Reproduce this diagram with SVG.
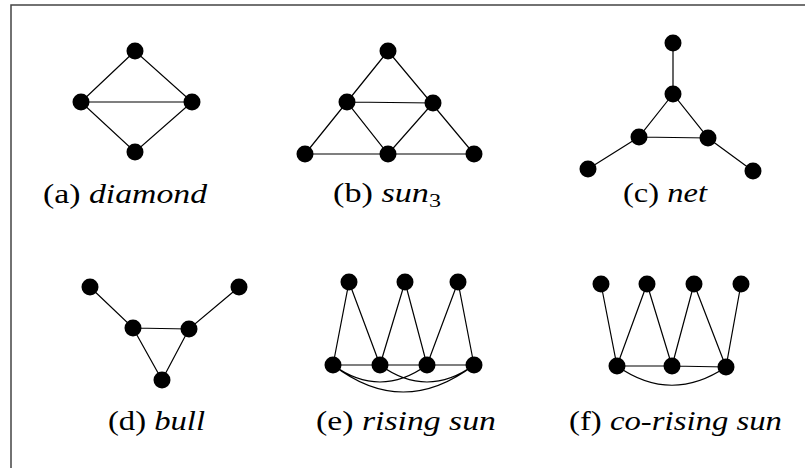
<svg xmlns="http://www.w3.org/2000/svg" width="805" height="468" viewBox="0 0 805 468">
<style>
.frame{stroke:#444;stroke-width:1.5;fill:none}
.e{stroke:#000;stroke-width:1.2;fill:none}
.n{fill:#000}
.lbl{font-family:"Liberation Serif","Times New Roman",serif;font-size:27px;fill:#000}
.it{font-style:italic}
</style>
<rect width="805" height="468" fill="#fff"/>
<path class="frame" d="M11,468 V5 H805"/>
<g id="connectors">
<path class="e" d="M135,51 L81,102 L135,152 L192,102 Z M81,102 H192"/>
<path class="e" d="M388,51 L305,154 H474 Z M347,102 L433,103 L388,154 Z"/>
<path class="e" d="M673,43 V94 M673,94 L639,137 L708,138 Z M639,137 L588,169 M708,138 L753,171"/>
<path class="e" d="M90,287 L133,328 L189,329 L239,287 M133,328 L162,380 L189,329"/>
<path class="e" d="M333,365 L349,282 L380,365 L405,282 L427,365 L458,282 L474,365 M333,365 H474"/>
<path class="e" d="M333,365 Q380,399 427,365 M380,365 Q427,399 474,365 M333,365 Q403,419 474,365"/>
<path class="e" d="M601,284 L617,366 L647,284 L672,366 L694,284 L726,367 L741,284 M617,366 L672,366 L726,367"/>
<path class="e" d="M617,366 Q671,404 726,367"/>
</g>
<g id="diamond">
<circle class="n" cx="135" cy="51" r="8.5"/><circle class="n" cx="81" cy="102" r="8.5"/><circle class="n" cx="192" cy="102" r="8.5"/><circle class="n" cx="135" cy="152" r="8.5"/>
<text class="lbl" x="43" y="203" textLength="164" lengthAdjust="spacingAndGlyphs">(a) <tspan class="it">diamond</tspan></text>
</g>
<g id="sun3">
<circle class="n" cx="388" cy="51" r="8.5"/><circle class="n" cx="347" cy="102" r="8.5"/><circle class="n" cx="433" cy="103" r="8.5"/><circle class="n" cx="305" cy="154" r="8.5"/><circle class="n" cx="388" cy="154" r="8.5"/><circle class="n" cx="474" cy="154" r="8.5"/>
<text class="lbl" x="333" y="202" textLength="108" lengthAdjust="spacingAndGlyphs">(b) <tspan class="it">sun</tspan><tspan font-size="19" dy="5">3</tspan></text>
</g>
<g id="net">
<circle class="n" cx="673" cy="43" r="8.5"/><circle class="n" cx="673" cy="94" r="8.5"/><circle class="n" cx="639" cy="137" r="8.5"/><circle class="n" cx="708" cy="138" r="8.5"/><circle class="n" cx="588" cy="169" r="8.5"/><circle class="n" cx="753" cy="171" r="8.5"/>
<text class="lbl" x="623" y="202" textLength="84" lengthAdjust="spacingAndGlyphs">(c) <tspan class="it">net</tspan></text>
</g>
<g id="bull">
<circle class="n" cx="90" cy="287" r="8.5"/><circle class="n" cx="239" cy="287" r="8.5"/><circle class="n" cx="133" cy="328" r="8.5"/><circle class="n" cx="189" cy="329" r="8.5"/><circle class="n" cx="162" cy="380" r="8.5"/>
<text class="lbl" x="108" y="430" textLength="97" lengthAdjust="spacingAndGlyphs">(d) <tspan class="it">bull</tspan></text>
</g>
<g id="rising-sun">
<circle class="n" cx="349" cy="282" r="8.5"/><circle class="n" cx="405" cy="282" r="8.5"/><circle class="n" cx="458" cy="282" r="8.5"/>
<circle class="n" cx="333" cy="365" r="8.5"/><circle class="n" cx="380" cy="365" r="8.5"/><circle class="n" cx="427" cy="365" r="8.5"/><circle class="n" cx="474" cy="365" r="8.5"/>
<text class="lbl" x="316" y="430" textLength="180" lengthAdjust="spacingAndGlyphs">(e) <tspan class="it">rising sun</tspan></text>
</g>
<g id="co-rising-sun">
<circle class="n" cx="601" cy="284" r="8.5"/><circle class="n" cx="647" cy="284" r="8.5"/><circle class="n" cx="694" cy="284" r="8.5"/><circle class="n" cx="741" cy="284" r="8.5"/>
<circle class="n" cx="617" cy="366" r="8.5"/><circle class="n" cx="672" cy="366" r="8.5"/><circle class="n" cx="726" cy="367" r="8.5"/>
<text class="lbl" x="569" y="430" textLength="213" lengthAdjust="spacingAndGlyphs">(f) <tspan class="it">co-rising sun</tspan></text>
</g>
</svg>
